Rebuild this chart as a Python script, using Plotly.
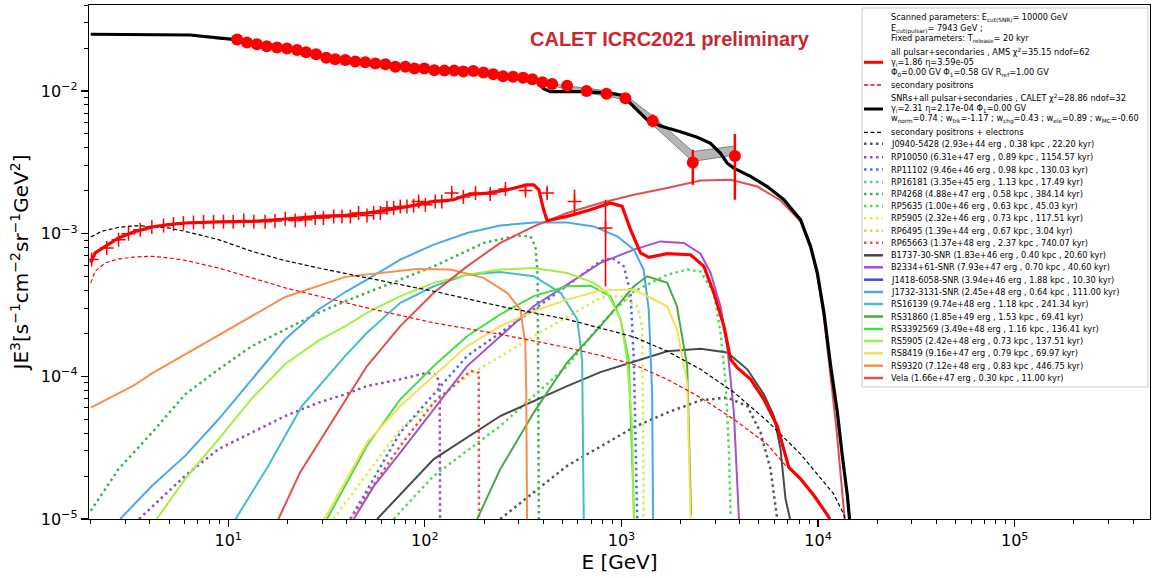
import plotly.graph_objects as go

# ---------------- data ----------------
# CALET electron+positron flux (red circles)
E_calet = [11.1, 12.45, 14.0, 15.7, 17.7, 19.9, 22.4, 24.9, 28.0, 31.5,
           35.0, 39.4, 44.3, 49.8, 56.0, 63.0, 70.8, 79.6, 88.5, 99.4,
           111.7, 125.7, 141, 157, 176.6, 198.6, 223, 250, 281, 316,
           352, 396, 444, 529, 664, 839, 1047, 1442, 2306, 3774]
J_calet = [0.0230, 0.0219, 0.0213, 0.0206, 0.0202, 0.0199, 0.0194, 0.0187, 0.0181, 0.0171,
           0.0167, 0.0165, 0.0161, 0.0159, 0.0156, 0.0154, 0.0148, 0.0148, 0.0144, 0.0144,
           0.0140, 0.0139, 0.0139, 0.0137, 0.0138, 0.0135, 0.0131, 0.0127, 0.0126, 0.0124,
           0.0121, 0.0115, 0.0112, 0.0109, 0.0100, 0.00958, 0.00889, 0.00617, 0.00315, 0.00351]
calet_err_up = [0.0003, 0.0003, 0.0003, 0.0003, 0.0003, 0.0003, 0.0003, 0.0003, 0.0003, 0.0003,
                0.0003, 0.0003, 0.0003, 0.0003, 0.0003, 0.0003, 0.0003, 0.0003, 0.0003, 0.0003,
                0.0003, 0.0003, 0.0003, 0.0003, 0.0003, 0.0003, 0.0003, 0.0003, 0.0003, 0.0003,
                0.0003, 0.0003, 0.0004, 0.0004, 0.0004, 0.0005, 0.0005, 0.0007, 0.00072, 0.00149]
calet_err_dn = [0.0003, 0.0003, 0.0003, 0.0003, 0.0003, 0.0003, 0.0003, 0.0003, 0.0003, 0.0003,
                0.0003, 0.0003, 0.0003, 0.0003, 0.0003, 0.0003, 0.0003, 0.0003, 0.0003, 0.0003,
                0.0003, 0.0003, 0.0003, 0.0003, 0.0003, 0.0003, 0.0003, 0.0003, 0.0003, 0.0003,
                0.0003, 0.0003, 0.0004, 0.0004, 0.0004, 0.0005, 0.0005, 0.0006, 0.00095, 0.00178]

# AMS positron flux (red pluses)
E_ams = [2.02, 2.41, 2.77, 3.11, 3.57, 4.09, 4.69, 5.27, 5.92, 6.66,
         7.49, 8.42, 9.46, 10.6, 12.0, 13.5, 15.4, 17.3, 19.5, 21.9,
         24.7, 27.7, 30.5, 34.4, 37.9, 41.8, 46.0, 50.8, 54.9, 59.4,
         64.2, 69.4, 75.0, 81.1, 87.7, 93.0, 100.6, 113, 122, 137,
         157, 181, 215, 257, 325, 419, 577, 830]
J_ams = [6.58e-4, 7.94e-4, 9.08e-4, 1.0e-3, 1.067e-3, 1.114e-3, 1.143e-3, 1.169e-3, 1.188e-3, 1.2e-3,
         1.208e-3, 1.208e-3, 1.214e-3, 1.214e-3, 1.239e-3, 1.214e-3, 1.214e-3, 1.228e-3, 1.274e-3, 1.239e-3,
         1.253e-3, 1.288e-3, 1.288e-3, 1.322e-3, 1.322e-3, 1.322e-3, 1.396e-3, 1.343e-3, 1.396e-3, 1.396e-3,
         1.513e-3, 1.513e-3, 1.553e-3, 1.553e-3, 1.57e-3, 1.684e-3, 1.596e-3, 1.684e-3, 1.684e-3, 1.927e-3,
         1.807e-3, 1.927e-3, 1.897e-3, 2.056e-3, 2.01e-3, 1.927e-3, 1.684e-3, 1.097e-3]
ams_err_up = [2e-5, 2e-5, 2e-5, 2e-5, 2e-5, 2e-5, 2e-5, 2e-5, 2e-5, 2e-5,
              2e-5, 2e-5, 2e-5, 2e-5, 2e-5, 2e-5, 2e-5, 2e-5, 2e-5, 2e-5,
              3e-5, 3e-5, 3e-5, 3e-5, 3e-5, 3e-5, 3e-5, 3e-5, 3e-5, 3e-5,
              4e-5, 4e-5, 4e-5, 4e-5, 4e-5, 5e-5, 5e-5, 5e-5, 6e-5, 7e-5,
              8e-5, 9e-5, 1.0e-4, 1.1e-4, 1.3e-4, 1.6e-4, 3.5e-4, 6.3e-4]
ams_err_dn = [2e-5, 2e-5, 2e-5, 2e-5, 2e-5, 2e-5, 2e-5, 2e-5, 2e-5, 2e-5,
              2e-5, 2e-5, 2e-5, 2e-5, 2e-5, 2e-5, 2e-5, 2e-5, 2e-5, 2e-5,
              3e-5, 3e-5, 3e-5, 3e-5, 3e-5, 3e-5, 3e-5, 3e-5, 3e-5, 3e-5,
              4e-5, 4e-5, 4e-5, 4e-5, 4e-5, 5e-5, 5e-5, 5e-5, 6e-5, 7e-5,
              8e-5, 9e-5, 1.0e-4, 1.1e-4, 1.3e-4, 1.6e-4, 3.2e-4, 6.7e-4]

# grey band at high energy
E_band = [400, 529, 664, 839, 1047, 1442, 2306, 3774]
band_hi = [0.01156, 0.01084, 0.0105, 0.0100, 0.00938, 0.00668, 0.00377, 0.00412]
band_lo = [0.01119, 0.01033, 0.00968, 0.00923, 0.00865, 0.00578, 0.00321, 0.00356]

# total model: SNRs + all pulsar + secondaries (black)
E_total = [2.0, 4.0, 6.4, 9.1, 11, 15, 20, 28, 40, 56, 80, 100, 140, 200, 250, 316, 352, 385, 400, 435,
           618, 845, 989, 1069, 1202, 1352, 1579, 1995, 2427, 2835, 3190, 3450, 3730, 4530, 5510,
           6700, 8150, 9160, 9910, 10710, 11590, 12530, 13280, 14090, 14450, 14700]
J_total = [0.0250, 0.0250, 0.0247, 0.0235, 0.0229, 0.0209, 0.0199, 0.0181, 0.0165, 0.0156, 0.0148, 0.0144,
           0.0139, 0.0135, 0.0127, 0.0124, 0.0121, 0.0113, 0.0104, 0.0099,
           0.0099, 0.0097, 0.00938, 0.00865, 0.00736, 0.00627, 0.00569, 0.00519, 0.00474, 0.00430,
           0.00366, 0.00312, 0.00288, 0.00252, 0.00214, 0.00173, 0.00125, 8.15e-4, 5.31e-4, 2.79e-4,
           1.18e-4, 5.6e-5, 2.77e-5, 1.46e-5, 1.0e-5, 5e-6]

# positron model: all pulsar + secondaries (thick red)
E_pos_model = [2.0, 2.105, 2.37, 2.77, 3.37, 4.10, 4.97, 6.04, 8.93, 13.2,
               19.5, 28.8, 39.4, 50.8, 75.0, 111, 140, 164, 207, 262,
               331, 358, 380, 402, 419, 529, 695, 879, 1008, 1112,
               1250, 1378, 1709, 2245, 2625, 2950, 3318, 3590, 3882, 4539,
               5300, 6196, 7100, 8143, 9525, 11350, 12000]
J_pos_model = [6.27e-4, 7.33e-4, 8.15e-4, 9.33e-4, 1.038e-3, 1.114e-3, 1.156e-3, 1.188e-3, 1.208e-3, 1.219e-3,
               1.267e-3, 1.322e-3, 1.343e-3, 1.396e-3, 1.513e-3, 1.684e-3, 1.73e-3, 1.875e-3, 1.927e-3, 2.03e-3,
               2.20e-3, 2.20e-3, 2.03e-3, 1.47e-3, 1.233e-3, 1.322e-3, 1.47e-3, 1.64e-3, 1.553e-3, 1.066e-3,
               7.33e-4, 6.83e-4, 7.24e-4, 7.12e-4, 5.90e-4, 3.85e-4, 2.25e-4, 1.315e-4, 1.15e-4, 9.53e-5,
               6.90e-5, 4.49e-5, 2.30e-5, 1.91e-5, 1.46e-5, 1.03e-5, 8e-6]

# secondary positrons (red dashed)
E_sec_pos = [2.0, 2.105, 2.37, 2.77, 3.37, 4.10, 4.97, 6.04, 8.93, 13.2, 19.5, 28.8,
             39.4, 50.8, 111, 242, 529, 782, 1156, 1709, 2525, 3733, 5510, 6966]
J_sec_pos = [4.52e-4, 5.45e-4, 6.24e-4, 6.65e-4, 6.87e-4, 6.94e-4, 6.76e-4, 6.50e-4, 5.75e-4, 4.90e-4,
             4.17e-4, 3.65e-4, 3.28e-4, 3.02e-4, 2.37e-4, 1.97e-4, 1.59e-4, 1.40e-4, 1.21e-4, 9.53e-5,
             7.10e-5, 5.0e-5, 3.34e-5, 2.30e-5]

# secondary positrons + electrons (black dashed)
E_sec_all = [2.0, 2.27, 2.77, 3.37, 4.10, 4.97, 6.04, 8.93, 13.2, 19.5, 28.8, 39.4, 50.8,
             111, 242, 529, 1156, 1709, 2525, 3733, 5510, 8143, 12000, 13500, 14000]
J_sec_all = [9.48e-4, 1.038e-3, 1.107e-3, 1.137e-3, 1.124e-3, 1.097e-3, 1.038e-3, 9.08e-4, 7.52e-4,
             6.47e-4, 5.75e-4, 5.25e-4, 4.90e-4, 3.95e-4, 3.10e-4, 2.51e-4, 1.89e-4, 1.50e-4, 1.12e-4,
             7.73e-5, 4.86e-5, 2.85e-5, 1.50e-5, 1.08e-5, 9e-6]

# individual sources
E_J0940 = [242, 529, 1156, 1709, 2525, 3450, 4363, 5090, 5727, 6195]
J_J0940 = [1e-5, 2.36e-5, 4.40e-5, 5.57e-5, 6.79e-5, 7.10e-5, 6.19e-5, 4.06e-5, 2.24e-5, 1e-5]
E_RP10050 = [3.52, 6.04, 8.93, 13.2, 19.5, 28.8, 39.4, 50.8, 75, 102.5, 115, 119, 119.5]
J_RP10050 = [1e-5, 2.01e-5, 3.09e-5, 4.04e-5, 5.27e-5, 6.54e-5, 7.48e-5, 8.55e-5, 9.53e-5, 1.06e-4,
             1.03e-4, 8.55e-5, 1e-5]
E_RP11102 = [41.8, 75, 164, 358, 782, 898, 1028, 1112, 1156, 1202]
J_RP11102 = [1e-5, 4.04e-5, 1.39e-4, 2.94e-4, 6.40e-4, 6.76e-4, 5.90e-4, 3.85e-4, 1.31e-4, 1e-5]
E_RP4268 = [2.0, 2.77, 4.10, 6.04, 8.93, 13.2, 19.5, 28.8, 39.4, 50.8, 111, 199, 294, 344, 365, 375, 380]
J_RP4268 = [1.14e-5, 2.24e-5, 4.04e-5, 7.48e-5, 1.12e-4, 1.63e-4, 2.13e-4, 2.79e-4, 3.36e-4, 3.85e-4,
            5.90e-4, 8.6e-4, 9.68e-4, 9.58e-4, 8.15e-4, 5.03e-4, 1e-5]
E_RP5635 = [69.4, 111, 242, 529, 782, 1156, 1709, 2159, 2525, 2950, 3190, 3388, 3518, 3590]
J_RP5635 = [1e-5, 2.01e-5, 4.49e-5, 1.18e-4, 2.31e-4, 3.93e-4, 5.16e-4, 5.60e-4, 5.42e-4, 3.85e-4,
            2.02e-4, 9.04e-5, 3.09e-5, 1.06e-5]
E_RP5905 = [34.3, 75, 164, 358, 782, 989, 1202, 1274, 1297]
J_RP5905 = [1e-5, 4.26e-5, 1.0e-4, 1.91e-4, 3.56e-4, 3.65e-4, 3.10e-4, 2.25e-4, 1e-5]
E_RP65663 = [41.8, 75, 111, 171, 188, 188.5]
J_RP65663 = [1e-5, 3.26e-5, 6.54e-5, 1.09e-4, 1.06e-4, 1e-5]
E_B1737 = [57.2, 111, 242, 529, 782, 1156, 1709, 2525, 3450, 4363, 5300, 5960, 6440, 6830, 7200]
J_B1737 = [1e-5, 2.63e-5, 5.27e-5, 8.55e-5, 1.07e-4, 1.26e-4, 1.50e-4, 1.56e-4, 1.47e-4, 1.12e-4,
           7.48e-5, 5.27e-5, 3.09e-5, 1.38e-5, 1e-5]
E_B2334 = [43.5, 55, 75, 164, 358, 782, 1156, 1577, 2075, 2525, 2837, 3190, 3450, 3730, 3958]
J_B2334 = [1e-5, 1.7e-5, 2.92e-5, 1.18e-4, 3.10e-4, 6.24e-4, 7.73e-4, 8.83e-4, 8.61e-4, 7.24e-4,
           5.33e-4, 3.10e-4, 1.63e-4, 5.57e-5, 1e-5]
E_J1732 = [2.82, 4.10, 6.04, 8.93, 13.2, 19.5, 28.8, 39.4, 50.8, 75.0, 111, 164, 242, 358, 529,
           723, 951, 1156, 1297, 1376, 1432, 1448]
J_J1732 = [1.0e-5, 1.71e-5, 2.77e-5, 5.0e-5, 9.53e-5, 1.82e-4, 2.94e-4, 3.9e-4, 4.77e-4, 6.58e-4,
           8.38e-4, 1.01e-3, 1.14e-3, 1.2e-3, 1.2e-3, 1.124e-3, 9.58e-4, 7.73e-4, 5.60e-4, 2.94e-4,
           7.69e-5, 1e-5]
E_RS16139 = [10.9, 16.0, 23.7, 39.4, 50.8, 75.0, 111, 164, 242, 358, 490, 596, 631, 643]
J_RS16139 = [1e-5, 2.36e-5, 6.19e-5, 1.39e-4, 2.02e-4, 3.28e-4, 4.28e-4, 5.16e-4, 5.39e-4, 5.03e-4,
             3.85e-4, 2.51e-4, 1.31e-4, 1e-5]
E_RS31860 = [184.5, 242, 358, 529, 782, 1156, 1352, 1709, 1915, 2159, 2260]
J_RS31860 = [1e-5, 2.24e-5, 5.57e-5, 1.25e-4, 2.25e-4, 4.28e-4, 5.03e-4, 4.52e-4, 3.10e-4, 1.18e-4, 1.06e-5]
E_RS3392569 = [31.8, 50.8, 75, 111, 164, 242, 358, 529, 695, 879, 989, 1089, 1160]
J_RS3392569 = [1e-5, 3.26e-5, 6.9e-5, 1.18e-4, 1.91e-4, 2.72e-4, 3.65e-4, 4.28e-4, 4.32e-4, 3.65e-4,
               2.51e-4, 1.31e-4, 1e-5]
E_RS5905 = [4.33, 6.04, 8.93, 13.2, 19.5, 28.8, 39.4, 50.8, 75, 111, 164, 242, 358, 529, 723, 846,
            989, 1069, 1133, 1156]
J_RS5905 = [1e-5, 1.91e-5, 3.63e-5, 7.0e-5, 1.22e-4, 1.78e-4, 2.25e-4, 2.79e-4, 3.65e-4, 4.52e-4,
            5.16e-4, 5.60e-4, 5.75e-4, 5.31e-4, 4.52e-4, 3.85e-4, 2.51e-4, 1.31e-4, 4.49e-5, 1e-5]
E_RS8419 = [30.8, 50.8, 75, 111, 164, 242, 358, 529, 782, 1156, 1709, 1915, 2159, 2245, 2270]
J_RS8419 = [1e-5, 3.44e-5, 6.19e-5, 1.0e-4, 1.63e-4, 2.25e-4, 2.86e-4, 3.45e-4, 3.99e-4, 4.06e-4,
            3.10e-4, 2.13e-4, 9.04e-5, 1.06e-5, 5e-6]
E_RS9320 = [2.0, 3.3, 4.1, 8.93, 19.5, 39.4, 50.8, 91.2, 135, 199, 262, 306, 324, 328, 331, 333]
J_RS9320 = [6.04e-5, 8.6e-5, 1.05e-4, 1.95e-4, 3.6e-4, 4.98e-4, 5.16e-4, 5.66e-4, 5.60e-4, 4.90e-4,
            3.85e-4, 2.94e-4, 1.72e-4, 7.69e-5, 1e-5, 5e-6]
E_Vela = [18.0, 23.2, 34.3, 50.8, 75.0, 111, 164, 242, 358, 529, 782, 1156, 1709, 2525, 3590, 4910,
          6440, 8143, 9160, 9910, 10700, 11590, 12400, 13650]
J_Vela = [1e-5, 2.12e-5, 5.0e-5, 1.18e-4, 2.25e-4, 3.85e-4, 5.90e-4, 8.61e-4, 1.124e-3, 1.396e-3,
          1.64e-3, 1.875e-3, 2.09e-3, 2.36e-3, 2.39e-3, 2.14e-3, 1.71e-3, 1.22e-3, 7.9e-4, 5.1e-4,
          2.6e-4, 1.03e-4, 4.3e-5, 1e-5]

# tick labels
x_tickvals = [10, 100, 1000, 10000, 100000]
x_ticktext = ["10<sup>1</sup>", "10<sup>2</sup>", "10<sup>3</sup>", "10<sup>4</sup>", "10<sup>5</sup>"]
y_tickvals = [1e-5, 1e-4, 1e-3, 1e-2]
y_ticktext = ["10<sup>−5</sup>", "10<sup>−4</sup>", "10<sup>−3</sup>", "10<sup>−2</sup>"]

# legend labels of the sources
src_labels = [
    "J0940-5428 (2.93e+44 erg , 0.38 kpc , 22.20 kyr)",
    "RP10050 (6.31e+47 erg , 0.89 kpc , 1154.57 kyr)",
    "RP11102 (9.46e+46 erg , 0.98 kpc , 130.03 kyr)",
    "RP16181 (3.35e+45 erg , 1.13 kpc , 17.49 kyr)",
    "RP4268 (4.88e+47 erg , 0.58 kpc , 384.14 kyr)",
    "RP5635 (1.00e+46 erg , 0.63 kpc , 45.03 kyr)",
    "RP5905 (2.32e+46 erg , 0.73 kpc , 117.51 kyr)",
    "RP6495 (1.39e+44 erg , 0.67 kpc , 3.04 kyr)",
    "RP65663 (1.37e+48 erg , 2.37 kpc , 740.07 kyr)",
    "B1737-30-SNR (1.83e+46 erg , 0.40 kpc , 20.60 kyr)",
    "B2334+61-SNR (7.93e+47 erg , 0.70 kpc , 40.60 kyr)",
    "J1418-6058-SNR (3.94e+46 erg , 1.88 kpc , 10.30 kyr)",
    "J1732-3131-SNR (2.45e+48 erg , 0.64 kpc , 111.00 kyr)",
    "RS16139 (9.74e+48 erg , 1.18 kpc , 241.34 kyr)",
    "RS31860 (1.85e+49 erg , 1.53 kpc , 69.41 kyr)",
    "RS3392569 (3.49e+48 erg , 1.16 kpc , 136.41 kyr)",
    "RS5905 (2.42e+48 erg , 0.73 kpc , 137.51 kyr)",
    "RS8419 (9.16e+47 erg , 0.79 kpc , 69.97 kyr)",
    "RS9320 (7.12e+48 erg , 0.83 kpc , 446.75 kyr)",
    "Vela (1.66e+47 erg , 0.30 kpc , 11.00 kyr)",
]
src_E = [E_J0940, E_RP10050, E_RP11102, None, E_RP4268, E_RP5635, E_RP5905, None, E_RP65663,
         E_B1737, E_B2334, None, E_J1732, E_RS16139, E_RS31860, E_RS3392569, E_RS5905, E_RS8419,
         E_RS9320, E_Vela]
src_J = [J_J0940, J_RP10050, J_RP11102, None, J_RP4268, J_RP5635, J_RP5905, None, J_RP65663,
         J_B1737, J_B2334, None, J_J1732, J_RS16139, J_RS31860, J_RS3392569, J_RS5905, J_RS8419,
         J_RS9320, J_Vela]

# ---------------- styles ----------------
src_colors = ["#555555", "#9448c6", "#4f6ce8", "#4cc6d2", "#3fb14a", "#48e048", "#d6ee48", "#f8c050",
              "#ef4c4c", "#4a4a4a", "#a652c6", "#4646d6", "#4aa8ea", "#44bfbf", "#45ac45", "#45de45",
              "#a2ef42", "#f8df58", "#f88f4e", "#e04f4f"]
src_dotted = [True] * 9 + [False] * 11
DOT = "2.5px,3.5px"

W, H = 1153, 578
ML, MR, MT, MB = 89, 3, 5, 59
PW, PH = W - ML - MR, H - MT - MB


def px2x(px):
    return (px - ML) / PW


def py2y(py):
    return (H - MB - py) / PH


fig = go.Figure()


def add_curve(E, J, color, width, dash="solid"):
    fig.add_trace(go.Scatter(x=E, y=J, mode="lines", line=dict(color=color, width=width, dash=dash),
                             showlegend=False, hoverinfo="skip", cliponaxis=True))


# individual sources
for E, J, col, dotted in zip(src_E, src_J, src_colors, src_dotted):
    if E is None:
        continue
    add_curve(E, J, col, 2.5 if dotted else 2.0, DOT if dotted else "solid")

# secondaries
add_curve(E_sec_all, J_sec_all, "black", 1.2, "4px,2.5px")
add_curve(E_sec_pos, J_sec_pos, "#ff0000", 1.2, "4px,2.5px")

# positron model
add_curve(E_pos_model, J_pos_model, "#ff0000", 3.2)

# grey band
fig.add_trace(go.Scatter(x=E_band + E_band[::-1], y=band_hi + band_lo[::-1], mode="lines",
                         fill="toself", fillcolor="rgba(150,150,150,0.7)",
                         line=dict(color="rgba(110,110,110,0.8)", width=1),
                         showlegend=False, hoverinfo="skip"))

# total model
add_curve(E_total, J_total, "black", 3.2)

# AMS positrons
fig.add_trace(go.Scatter(x=E_ams, y=J_ams, mode="markers",
                         marker=dict(symbol="cross-thin", size=10, color="#ff0000",
                                     line=dict(color="#ff0000", width=1.5)),
                         error_y=dict(type="data", array=ams_err_up, arrayminus=ams_err_dn,
                                      color="#ff0000", thickness=1.6, width=0),
                         showlegend=False, hoverinfo="skip"))

# CALET electrons+positrons
fig.add_trace(go.Scatter(x=E_calet, y=J_calet, mode="markers",
                         marker=dict(symbol="circle", size=12, color="#ff0000", line=dict(width=0)),
                         error_y=dict(type="data", array=calet_err_up, arrayminus=calet_err_dn,
                                      color="#ff0000", thickness=2.5, width=0),
                         showlegend=False, hoverinfo="skip"))

# ---------------- axes ----------------
minor_vals = [m * 10 ** k for k in range(0, 6) for m in range(2, 10)]
minor_vals_y = [m * 10.0 ** k for k in range(-5, -1) for m in range(2, 10)]

fig.update_xaxes(type="log", range=[0.292, 5.688], showgrid=False, zeroline=False,
                 showline=True, linecolor="black", linewidth=1.2, mirror=True,
                 ticks="outside", ticklen=7, tickwidth=1.2, tickcolor="black",
                 tickmode="array", tickvals=x_tickvals, ticktext=x_ticktext,
                 tickfont=dict(family="DejaVu Sans", size=16, color="black"),
                 minor=dict(tickmode="array", tickvals=minor_vals, ticks="outside", ticklen=4,
                            tickwidth=1, tickcolor="black", showgrid=False),
                 title=dict(text="E [GeV]", font=dict(family="DejaVu Sans", size=20, color="black"),
                            standoff=5))
fig.update_yaxes(type="log", range=[-5, -1.397], showgrid=False, zeroline=False,
                 showline=True, linecolor="black", linewidth=1.2, mirror=True,
                 ticks="outside", ticklen=7, tickwidth=1.2, tickcolor="black",
                 tickmode="array", tickvals=y_tickvals, ticktext=y_ticktext,
                 tickfont=dict(family="DejaVu Sans", size=16, color="black"),
                 minor=dict(tickmode="array", tickvals=minor_vals_y, ticks="outside", ticklen=4,
                            tickwidth=1, tickcolor="black", showgrid=False),
                 title=dict(text="JE<sup>3</sup>[s<sup>−1</sup>cm<sup>−2</sup>sr<sup>−1</sup>GeV<sup>2</sup>]",
                            font=dict(family="DejaVu Sans", size=20, color="black"), standoff=6))

# ---------------- legend (drawn by hand) ----------------
shapes = []
annotations = []
shapes.append(dict(type="rect", xref="paper", yref="paper", x0=px2x(862), x1=px2x(1148),
                   y0=py2y(387), y1=py2y(8), fillcolor="rgba(255,255,255,0.85)",
                   line=dict(color="#cccccc", width=1), layer="above"))

LFONT = dict(family="DejaVu Sans", size=8.2, color="black")
TX = px2x(889)


def leg_text(py, text):
    annotations.append(dict(xref="paper", yref="paper", x=TX, y=py2y(py), text=text, showarrow=False,
                            xanchor="left", yanchor="middle", font=LFONT))


def leg_line(py, color, width, dash="solid"):
    shapes.append(dict(type="line", xref="paper", yref="paper", x0=px2x(864), x1=px2x(883),
                       y0=py2y(py), y1=py2y(py), line=dict(color=color, width=width, dash=dash),
                       layer="above"))


leg_text(17.7, "Scanned parameters: E<sub>cut(SNR)</sub>= 10000 GeV")
leg_text(28.8, "E<sub>cut(pulsar)</sub>= 7943 GeV ;")
leg_text(39.0, "Fixed parameters: T<sub>release</sub>= 20 kyr")
leg_text(51.7, "all pulsar+secondaries , AMS χ<sup>2</sup>=35.15 ndof=62")
leg_text(62.3, "γ<sub>i</sub>=1.86 η=3.59e-05")
leg_text(72.7, "Φ<sub>0</sub>=0.00 GV Φ<sub>1</sub>=0.58 GV R<sub>ref</sub>=1.00 GV")
leg_line(62.3, "#ff0000", 3)
leg_text(85.0, "secondary positrons")
leg_line(85.0, "#ff0000", 1.3, "4px,2.5px")
leg_text(98.3, "SNRs+all pulsar+secondaries , CALET χ<sup>2</sup>=28.86 ndof=32")
leg_text(109.0, "γ<sub>i</sub>=2.31 η=2.17e-04 Φ<sub>1</sub>=0.00 GV")
leg_text(119.5, "w<sub>norm</sub>=0.74 ; w<sub>trk</sub>=-1.17 ; w<sub>chg</sub>=0.43 ; "
                "w<sub>ele</sub>=0.89 ; w<sub>MC</sub>=-0.60")
leg_line(109.0, "black", 3)
leg_text(132.3, "secondary positrons + electrons")
leg_line(132.3, "black", 1.3, "4px,2.5px")

src_rows = [143.7, 157.3, 169.5, 182.0, 194.0, 206.0, 218.3, 230.7, 242.7, 255.3,
            267.3, 279.7, 292.0, 304.0, 316.5, 329.0, 341.0, 353.3, 365.7, 378.0]
for py, lab, col, dotted in zip(src_rows, src_labels, src_colors, src_dotted):
    leg_text(py, lab)
    leg_line(py, col, 2.5, DOT if dotted else "solid")

# title text
annotations.append(dict(xref="paper", yref="paper", x=px2x(670), y=py2y(39),
                        text="<b>CALET ICRC2021 preliminary</b>", showarrow=False,
                        xanchor="center", yanchor="middle",
                        font=dict(family="Liberation Sans", size=20, color="#c9282d")))

fig.update_layout(width=W, height=H, margin=dict(l=ML, r=MR, t=MT, b=MB, autoexpand=False),
                  paper_bgcolor="white", plot_bgcolor="white", showlegend=False,
                  font=dict(family="DejaVu Sans", color="black"),
                  shapes=shapes, annotations=annotations)

fig.write_html("out.html", config={"displayModeBar": False, "staticPlot": True},
               post_script="document.body.style.margin='0px';"
                           "document.body.style.overflow='hidden';")
